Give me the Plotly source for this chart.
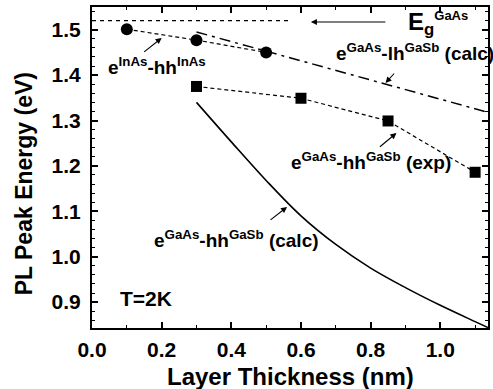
import plotly.graph_objects as go

# ---- data ----
thick_circ = [0.1, 0.3, 0.5]
pl_circ = [1.501, 1.477, 1.450]

thick_sq = [0.3, 0.6, 0.85, 1.1]
pl_sq = [1.375, 1.349, 1.299, 1.186]

thick_lh = [0.3, 1.137]
pl_lh = [1.495, 1.318]

thick_hh = [0.30, 0.40, 0.50, 0.60, 0.70, 0.80, 0.90, 1.00, 1.10, 1.137]
pl_hh = [1.340, 1.253, 1.168, 1.090, 1.027, 0.975, 0.932, 0.893, 0.857, 0.844]

thick_eg = [0.0, 0.574]
pl_eg = [1.52, 1.52]

x_ticks = [0.0, 0.2, 0.4, 0.6, 0.8, 1.0]
y_ticks = [0.9, 1.0, 1.1, 1.2, 1.3, 1.4, 1.5]

X_RANGE = [0.0, 1.137]
Y_RANGE = [0.843, 1.55]

W, H = 493, 389
ML, MR, MT, MB = 92, 3, 7, 61
L, R, T, B = ML, W - MR, MT, H - MB

FONT = "Liberation Sans, Arial, Helvetica, sans-serif"


def px2x(p):
    return X_RANGE[0] + (p - L) / (R - L) * (X_RANGE[1] - X_RANGE[0])


def py2y(p):
    return Y_RANGE[1] - (p - T) / (B - T) * (Y_RANGE[1] - Y_RANGE[0])


def px2paper(p):
    return (p - L) / (R - L)


def py2paper(p):
    return (B - p) / (B - T)


fig = go.Figure()

fig.add_trace(go.Scatter(x=thick_eg, y=pl_eg, mode="lines",
                         line=dict(color="black", width=1.2, dash="4px,4px"),
                         showlegend=False, hoverinfo="skip"))
fig.add_trace(go.Scatter(x=thick_lh, y=pl_lh, mode="lines",
                         line=dict(color="black", width=1.5, dash="11px,5px,3px,5px"),
                         showlegend=False, hoverinfo="skip"))
fig.add_trace(go.Scatter(x=thick_hh, y=pl_hh, mode="lines", line_shape="spline",
                         line=dict(color="black", width=1.6),
                         showlegend=False, hoverinfo="skip"))
fig.add_trace(go.Scatter(x=thick_circ, y=pl_circ, mode="lines+markers",
                         line=dict(color="black", width=1.2, dash="4px,3px"),
                         marker=dict(symbol="circle", size=12, color="black"),
                         showlegend=False))
fig.add_trace(go.Scatter(x=thick_sq, y=pl_sq, mode="lines+markers",
                         line=dict(color="black", width=1.2, dash="4px,3px"),
                         marker=dict(symbol="square", size=11, color="black"),
                         showlegend=False))

annots = []


def label(text, left, baseline, size=19):
    annots.append(dict(text=text, x=px2x(left), y=py2y(baseline + 0.21 * size + 1),
                       xref="x", yref="y", xanchor="left", yanchor="bottom",
                       showarrow=False, font=dict(family=FONT, size=size, color="black", weight="bold")))


def arrow(tail, head):
    annots.append(dict(text="", x=px2x(head[0]), y=py2y(head[1]), xref="x", yref="y",
                       ax=tail[0] - head[0], ay=tail[1] - head[1],
                       showarrow=True, arrowhead=2, arrowsize=1.1, arrowwidth=1.1,
                       arrowcolor="black", standoff=0, startstandoff=0))


label("e<sup>InAs</sup>-hh<sup>InAs</sup>", 106, 75)
arrow((143, 53), (162, 38))
label("e<sup>GaAs</sup>-lh<sup>GaSb</sup> (calc)", 335, 61)
arrow((397, 72), (387, 83))
label("e<sup>GaAs</sup>-hh<sup>GaSb</sup> (exp)", 290, 170)
arrow((380, 148), (398, 133))
label("e<sup>GaAs</sup>-hh<sup>GaSb</sup> (calc)", 152, 248)
arrow((270, 221), (288, 207))
label("T=2K", 118, 306.5, size=21)
label("E<sub>g</sub><sup><span style='font-size:13px'>GaAs</span></sup>", 408, 35, size=24)
arrow((388, 22), (312, 22))

# axis titles
annots.append(dict(text="Layer Thickness (nm)", x=px2paper(292), y=py2paper(376),
                   xref="paper", yref="paper", xanchor="center", yanchor="middle",
                   showarrow=False, font=dict(family=FONT, size=24, color="black", weight="bold")))
annots.append(dict(text="PL Peak Energy (eV)", x=px2paper(24), y=py2paper(184),
                   xref="paper", yref="paper", xanchor="center", yanchor="middle",
                   textangle=-90,
                   showarrow=False, font=dict(family=FONT, size=23, color="black", weight="bold")))

axis_common = dict(showgrid=False, zeroline=False, showline=True, linecolor="black",
                   linewidth=2, mirror="allticks", ticks="inside", ticklen=6,
                   tickwidth=1.5, tickcolor="black",
                   tickfont=dict(family=FONT, size=21, color="black", weight="bold"))

fig.update_xaxes(range=X_RANGE, tickvals=x_ticks, ticktext=[f"{v:.1f}" for v in x_ticks],
                 minor=dict(dtick=0.1, tick0=0, ticks="inside", ticklen=3, tickcolor="black", tickwidth=1.2),
                 ticklabelstandoff=2, **axis_common)
fig.update_yaxes(range=Y_RANGE, tickvals=y_ticks, ticktext=[f"{v:.1f}" for v in y_ticks],
                 minor=dict(dtick=0.02, tick0=0.9, ticks="inside", ticklen=3, tickcolor="black", tickwidth=1.2),
                 ticklabelstandoff=5, **axis_common)

fig.update_layout(width=W, height=H, margin=dict(l=ML, r=MR, t=MT, b=MB),
                  plot_bgcolor="white", paper_bgcolor="white",
                  annotations=annots, showlegend=False)

fig.write_html("out.html")
